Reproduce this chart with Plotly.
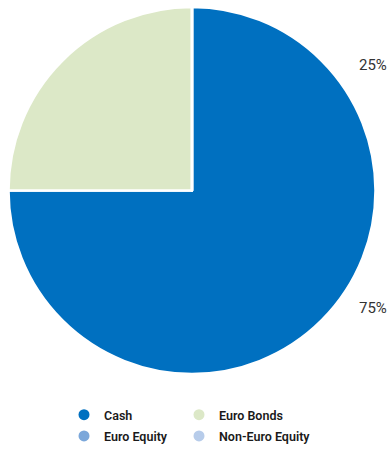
import plotly.graph_objects as go

labels = ["Cash", "Euro Bonds", "Euro Equity", "Non-Euro Equity"]
values = [75, 25, 0, 0]
colors = ["#0070C0", "#DCE8C7", "#7BA7DA", "#B7CCEA"]
label_y = [65, 308]  # pixel rows of the percentage labels (from top)

W, H = 389, 450

fig = go.Figure()
fig.add_trace(go.Pie(
    labels=labels, values=values, sort=False, direction="clockwise", rotation=0,
    marker=dict(colors=colors, line=dict(color="white", width=2.5)),
    textinfo="none", hoverinfo="label+percent", showlegend=False,
    domain=dict(x=[8 / W, 376 / W], y=[(H - 374) / H, (H - 7) / H]),
))

# two legend columns: items 0,2 in the first, 1,3 in the second
for i, (lab, col) in enumerate(zip(labels, colors)):
    fig.add_trace(go.Scatter(
        x=[None], y=[None], mode="markers", name=lab,
        marker=dict(symbol="circle", size=11, color=col),
        showlegend=True, legendgroup=lab,
        legend="legend" if i % 2 == 0 else "legend2",
    ))

total = sum(values)
shown = [v for v in values if v > 0]
for v, yy in zip(sorted(shown), label_y):
    fig.add_annotation(
        x=1.0, y=1 - yy / H, xref="paper", yref="paper",
        xanchor="right", yanchor="middle", showarrow=False,
        text=f"{round(100 * v / total)}%",
        font=dict(family="Roboto", size=15, color="#333333"),
    )

leg_font = dict(family="Roboto", size=12.5, color="#1a1a1a", weight=600)
common = dict(orientation="v", yanchor="top", xanchor="left", y=1 - 400 / H,
              font=leg_font, bgcolor="rgba(0,0,0,0)", tracegroupgap=2)

fig.update_layout(
    width=W, height=H,
    margin=dict(l=0, r=0, t=0, b=0, autoexpand=False),
    paper_bgcolor="white", plot_bgcolor="white",
    xaxis=dict(visible=False), yaxis=dict(visible=False),
    legend=dict(x=64 / W, **common),
    legend2=dict(x=179 / W, **common),
)

fig.write_html("out.html")
